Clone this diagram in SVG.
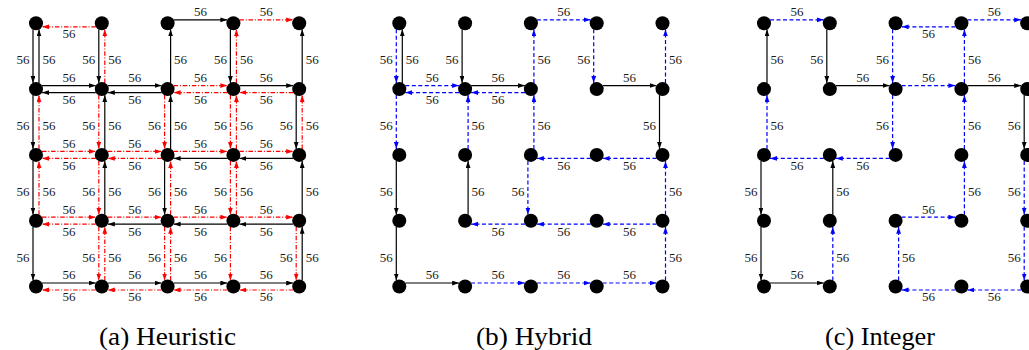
<svg xmlns="http://www.w3.org/2000/svg" width="1029" height="350" viewBox="0 0 1029 350">
<style>
.k{stroke:#000;stroke-width:1.2;fill:none;marker-end:url(#ak)}
.r{stroke:#f00;stroke-width:1.2;fill:none;stroke-dasharray:4.5 1.8 1 1.8;marker-end:url(#ar)}
.b{stroke:#00f;stroke-width:1.2;fill:none;stroke-dasharray:4 2.5;marker-end:url(#ab)}
.lb text{font-family:"Liberation Serif","Times New Roman",serif;font-size:13px;text-anchor:middle;fill:#1a1a1a}
.nd circle{fill:#000}
.cap{font-family:"Liberation Serif","Times New Roman",serif;font-size:25px;text-anchor:middle;fill:#000}
</style>
<defs>
<marker id="ak" markerUnits="userSpaceOnUse" markerWidth="8" markerHeight="6" refX="7" refY="2.4" orient="auto"><path d="M0,0 L7,2.4 L0,4.8 z" fill="#000"/></marker>
<marker id="ar" markerUnits="userSpaceOnUse" markerWidth="8" markerHeight="6" refX="7" refY="2.4" orient="auto"><path d="M0,0 L7,2.4 L0,4.8 z" fill="#f00"/></marker>
<marker id="ab" markerUnits="userSpaceOnUse" markerWidth="8" markerHeight="6" refX="7" refY="2.4" orient="auto"><path d="M0,0 L7,2.4 L0,4.8 z" fill="#00f"/></marker>
<circle id="dot" r="7"/>
</defs>

<!-- Panel (a) Heuristic -->
<g id="panel-a" transform="translate(36,23.3)">
<g id="a-connectors">
<line class="r" x1="59.8" y1="3.5" x2="6" y2="3.5"/>
<line class="k" x1="137.6" y1="-3.5" x2="191.4" y2="-3.5"/>
<line class="r" x1="203.4" y1="-3.5" x2="257.2" y2="-3.5"/>
<line class="k" x1="6" y1="62.3" x2="59.8" y2="62.3"/>
<line class="k" x1="59.8" y1="69.3" x2="6" y2="69.3"/>
<line class="k" x1="71.8" y1="62.3" x2="125.6" y2="62.3"/>
<line class="k" x1="125.6" y1="69.3" x2="71.8" y2="69.3"/>
<line class="r" x1="137.6" y1="62.3" x2="191.4" y2="62.3"/>
<line class="r" x1="191.4" y1="69.3" x2="137.6" y2="69.3"/>
<line class="k" x1="203.4" y1="62.3" x2="257.2" y2="62.3"/>
<line class="r" x1="257.2" y1="69.3" x2="203.4" y2="69.3"/>
<line class="r" x1="6" y1="128.1" x2="59.8" y2="128.1"/>
<line class="r" x1="59.8" y1="135.1" x2="6" y2="135.1"/>
<line class="r" x1="71.8" y1="128.1" x2="125.6" y2="128.1"/>
<line class="r" x1="125.6" y1="135.1" x2="71.8" y2="135.1"/>
<line class="r" x1="137.6" y1="128.1" x2="191.4" y2="128.1"/>
<line class="k" x1="191.4" y1="135.1" x2="137.6" y2="135.1"/>
<line class="r" x1="203.4" y1="128.1" x2="257.2" y2="128.1"/>
<line class="k" x1="257.2" y1="135.1" x2="203.4" y2="135.1"/>
<line class="r" x1="6" y1="193.9" x2="59.8" y2="193.9"/>
<line class="r" x1="59.8" y1="200.9" x2="6" y2="200.9"/>
<line class="r" x1="71.8" y1="193.9" x2="125.6" y2="193.9"/>
<line class="k" x1="125.6" y1="200.9" x2="71.8" y2="200.9"/>
<line class="r" x1="137.6" y1="193.9" x2="191.4" y2="193.9"/>
<line class="k" x1="191.4" y1="200.9" x2="137.6" y2="200.9"/>
<line class="r" x1="203.4" y1="193.9" x2="257.2" y2="193.9"/>
<line class="k" x1="257.2" y1="200.9" x2="203.4" y2="200.9"/>
<line class="k" x1="6" y1="259.7" x2="59.8" y2="259.7"/>
<line class="r" x1="59.8" y1="266.7" x2="6" y2="266.7"/>
<line class="k" x1="71.8" y1="259.7" x2="125.6" y2="259.7"/>
<line class="r" x1="125.6" y1="266.7" x2="71.8" y2="266.7"/>
<line class="k" x1="137.6" y1="259.7" x2="191.4" y2="259.7"/>
<line class="r" x1="191.4" y1="266.7" x2="137.6" y2="266.7"/>
<line class="k" x1="203.4" y1="259.7" x2="257.2" y2="259.7"/>
<line class="r" x1="257.2" y1="266.7" x2="203.4" y2="266.7"/>
<line class="k" x1="-3" y1="6" x2="-3" y2="59.8"/>
<line class="k" x1="3" y1="59.8" x2="3" y2="6"/>
<line class="k" x1="-3" y1="71.8" x2="-3" y2="125.6"/>
<line class="r" x1="3" y1="125.6" x2="3" y2="71.8"/>
<line class="k" x1="-3" y1="137.6" x2="-3" y2="191.4"/>
<line class="r" x1="3" y1="191.4" x2="3" y2="137.6"/>
<line class="k" x1="-3" y1="203.4" x2="-3" y2="257.2"/>
<line class="k" x1="62.8" y1="6" x2="62.8" y2="59.8"/>
<line class="r" x1="68.8" y1="59.8" x2="68.8" y2="6"/>
<line class="r" x1="62.8" y1="71.8" x2="62.8" y2="125.6"/>
<line class="k" x1="68.8" y1="125.6" x2="68.8" y2="71.8"/>
<line class="r" x1="62.8" y1="137.6" x2="62.8" y2="191.4"/>
<line class="k" x1="68.8" y1="191.4" x2="68.8" y2="137.6"/>
<line class="r" x1="62.8" y1="203.4" x2="62.8" y2="257.2"/>
<line class="r" x1="68.8" y1="257.2" x2="68.8" y2="203.4"/>
<line class="k" x1="134.6" y1="59.8" x2="134.6" y2="6"/>
<line class="r" x1="128.6" y1="71.8" x2="128.6" y2="125.6"/>
<line class="k" x1="134.6" y1="125.6" x2="134.6" y2="71.8"/>
<line class="k" x1="128.6" y1="137.6" x2="128.6" y2="191.4"/>
<line class="r" x1="134.6" y1="191.4" x2="134.6" y2="137.6"/>
<line class="r" x1="128.6" y1="203.4" x2="128.6" y2="257.2"/>
<line class="r" x1="134.6" y1="257.2" x2="134.6" y2="203.4"/>
<line class="k" x1="194.4" y1="6" x2="194.4" y2="59.8"/>
<line class="r" x1="200.4" y1="59.8" x2="200.4" y2="6"/>
<line class="r" x1="194.4" y1="71.8" x2="194.4" y2="125.6"/>
<line class="r" x1="200.4" y1="125.6" x2="200.4" y2="71.8"/>
<line class="r" x1="194.4" y1="137.6" x2="194.4" y2="191.4"/>
<line class="r" x1="200.4" y1="191.4" x2="200.4" y2="137.6"/>
<line class="r" x1="194.4" y1="203.4" x2="194.4" y2="257.2"/>
<line class="k" x1="266.2" y1="59.8" x2="266.2" y2="6"/>
<line class="k" x1="260.2" y1="71.8" x2="260.2" y2="125.6"/>
<line class="r" x1="266.2" y1="125.6" x2="266.2" y2="71.8"/>
<line class="k" x1="266.2" y1="191.4" x2="266.2" y2="137.6"/>
<line class="r" x1="260.2" y1="203.4" x2="260.2" y2="257.2"/>
<line class="k" x1="266.2" y1="257.2" x2="266.2" y2="203.4"/>
</g>
<g id="a-labels" class="lb">
<text x="32.9" y="15">56</text>
<text x="164.5" y="-7">56</text>
<text x="230.3" y="-7">56</text>
<text x="32.9" y="58.8">56</text><text x="32.9" y="80.8">56</text>
<text x="98.7" y="58.8">56</text><text x="98.7" y="80.8">56</text>
<text x="164.5" y="58.8">56</text><text x="164.5" y="80.8">56</text>
<text x="230.3" y="58.8">56</text><text x="230.3" y="80.8">56</text>
<text x="32.9" y="124.6">56</text><text x="32.9" y="146.6">56</text>
<text x="98.7" y="124.6">56</text><text x="98.7" y="146.6">56</text>
<text x="164.5" y="124.6">56</text><text x="164.5" y="146.6">56</text>
<text x="230.3" y="124.6">56</text><text x="230.3" y="146.6">56</text>
<text x="32.9" y="190.4">56</text><text x="32.9" y="212.4">56</text>
<text x="98.7" y="190.4">56</text><text x="98.7" y="212.4">56</text>
<text x="164.5" y="190.4">56</text><text x="164.5" y="212.4">56</text>
<text x="230.3" y="190.4">56</text><text x="230.3" y="212.4">56</text>
<text x="32.9" y="256.2">56</text><text x="32.9" y="278.2">56</text>
<text x="98.7" y="256.2">56</text><text x="98.7" y="278.2">56</text>
<text x="164.5" y="256.2">56</text><text x="164.5" y="278.2">56</text>
<text x="230.3" y="256.2">56</text><text x="230.3" y="278.2">56</text>
<text x="-13" y="40.9">56</text><text x="13" y="40.9">56</text>
<text x="-13" y="106.7">56</text><text x="13" y="106.7">56</text>
<text x="-13" y="172.5">56</text><text x="13" y="172.5">56</text>
<text x="-13" y="238.3">56</text>
<text x="52.8" y="40.9">56</text><text x="78.8" y="40.9">56</text>
<text x="52.8" y="106.7">56</text><text x="78.8" y="106.7">56</text>
<text x="52.8" y="172.5">56</text><text x="78.8" y="172.5">56</text>
<text x="52.8" y="238.3">56</text><text x="78.8" y="238.3">56</text>
<text x="144.6" y="40.9">56</text>
<text x="118.6" y="106.7">56</text><text x="144.6" y="106.7">56</text>
<text x="118.6" y="172.5">56</text><text x="144.6" y="172.5">56</text>
<text x="118.6" y="238.3">56</text><text x="144.6" y="238.3">56</text>
<text x="184.4" y="40.9">56</text><text x="210.4" y="40.9">56</text>
<text x="184.4" y="106.7">56</text><text x="210.4" y="106.7">56</text>
<text x="184.4" y="172.5">56</text><text x="210.4" y="172.5">56</text>
<text x="184.4" y="238.3">56</text>
<text x="276.2" y="40.9">56</text>
<text x="250.2" y="106.7">56</text><text x="276.2" y="106.7">56</text>
<text x="276.2" y="172.5">56</text>
<text x="250.2" y="238.3">56</text><text x="276.2" y="238.3">56</text>
</g>
<g class="nd">
<g id="a-n00"><use href="#dot" x="0" y="0"/></g><g id="a-n10"><use href="#dot" x="65.8" y="0"/></g><g id="a-n20"><use href="#dot" x="131.6" y="0"/></g><g id="a-n30"><use href="#dot" x="197.4" y="0"/></g><g id="a-n40"><use href="#dot" x="263.2" y="0"/></g>
<g id="a-n01"><use href="#dot" x="0" y="65.8"/></g><g id="a-n11"><use href="#dot" x="65.8" y="65.8"/></g><g id="a-n21"><use href="#dot" x="131.6" y="65.8"/></g><g id="a-n31"><use href="#dot" x="197.4" y="65.8"/></g><g id="a-n41"><use href="#dot" x="263.2" y="65.8"/></g>
<g id="a-n02"><use href="#dot" x="0" y="131.6"/></g><g id="a-n12"><use href="#dot" x="65.8" y="131.6"/></g><g id="a-n22"><use href="#dot" x="131.6" y="131.6"/></g><g id="a-n32"><use href="#dot" x="197.4" y="131.6"/></g><g id="a-n42"><use href="#dot" x="263.2" y="131.6"/></g>
<g id="a-n03"><use href="#dot" x="0" y="197.4"/></g><g id="a-n13"><use href="#dot" x="65.8" y="197.4"/></g><g id="a-n23"><use href="#dot" x="131.6" y="197.4"/></g><g id="a-n33"><use href="#dot" x="197.4" y="197.4"/></g><g id="a-n43"><use href="#dot" x="263.2" y="197.4"/></g>
<g id="a-n04"><use href="#dot" x="0" y="263.2"/></g><g id="a-n14"><use href="#dot" x="65.8" y="263.2"/></g><g id="a-n24"><use href="#dot" x="131.6" y="263.2"/></g><g id="a-n34"><use href="#dot" x="197.4" y="263.2"/></g><g id="a-n44"><use href="#dot" x="263.2" y="263.2"/></g>
</g>
</g>

<!-- Panel (b) Hybrid -->
<g id="panel-b" transform="translate(399.3,23.3)">
<g id="b-connectors">
<line class="b" x1="137.6" y1="-3.5" x2="191.4" y2="-3.5"/>
<line class="b" x1="6" y1="62.3" x2="59.8" y2="62.3"/>
<line class="b" x1="59.8" y1="69.3" x2="6" y2="69.3"/>
<line class="k" x1="71.8" y1="62.3" x2="125.6" y2="62.3"/>
<line class="b" x1="125.6" y1="69.3" x2="71.8" y2="69.3"/>
<line class="k" x1="203.4" y1="62.3" x2="257.2" y2="62.3"/>
<line class="b" x1="191.4" y1="135.1" x2="137.6" y2="135.1"/>
<line class="b" x1="257.2" y1="135.1" x2="203.4" y2="135.1"/>
<line class="b" x1="125.6" y1="200.9" x2="71.8" y2="200.9"/>
<line class="b" x1="191.4" y1="200.9" x2="137.6" y2="200.9"/>
<line class="b" x1="257.2" y1="200.9" x2="203.4" y2="200.9"/>
<line class="k" x1="6" y1="259.7" x2="59.8" y2="259.7"/>
<line class="b" x1="71.8" y1="259.7" x2="125.6" y2="259.7"/>
<line class="b" x1="137.6" y1="259.7" x2="191.4" y2="259.7"/>
<line class="b" x1="203.4" y1="259.7" x2="257.2" y2="259.7"/>
<line class="b" x1="-3" y1="6" x2="-3" y2="59.8"/>
<line class="k" x1="3" y1="59.8" x2="3" y2="6"/>
<line class="b" x1="-3" y1="71.8" x2="-3" y2="125.6"/>
<line class="k" x1="-3" y1="137.6" x2="-3" y2="191.4"/>
<line class="k" x1="-3" y1="203.4" x2="-3" y2="257.2"/>
<line class="k" x1="62.8" y1="6" x2="62.8" y2="59.8"/>
<line class="b" x1="68.8" y1="125.6" x2="68.8" y2="71.8"/>
<line class="k" x1="68.8" y1="191.4" x2="68.8" y2="137.6"/>
<line class="b" x1="134.6" y1="59.8" x2="134.6" y2="6"/>
<line class="b" x1="134.6" y1="125.6" x2="134.6" y2="71.8"/>
<line class="b" x1="128.6" y1="137.6" x2="128.6" y2="191.4"/>
<line class="b" x1="194.4" y1="6" x2="194.4" y2="59.8"/>
<line class="b" x1="266.2" y1="59.8" x2="266.2" y2="6"/>
<line class="k" x1="260.2" y1="71.8" x2="260.2" y2="125.6"/>
<line class="b" x1="266.2" y1="191.4" x2="266.2" y2="137.6"/>
<line class="b" x1="266.2" y1="257.2" x2="266.2" y2="203.4"/>
</g>
<g id="b-labels" class="lb">
<text x="164.5" y="-7">56</text>
<text x="32.9" y="58.8">56</text><text x="32.9" y="80.8">56</text>
<text x="98.7" y="58.8">56</text><text x="98.7" y="80.8">56</text>
<text x="230.3" y="58.8">56</text>
<text x="164.5" y="146.6">56</text><text x="230.3" y="146.6">56</text>
<text x="98.7" y="212.4">56</text><text x="164.5" y="212.4">56</text><text x="230.3" y="212.4">56</text>
<text x="32.9" y="256.2">56</text><text x="98.7" y="256.2">56</text><text x="164.5" y="256.2">56</text><text x="230.3" y="256.2">56</text>
<text x="-13" y="40.9">56</text><text x="13" y="40.9">56</text>
<text x="-13" y="106.7">56</text><text x="-13" y="172.5">56</text><text x="-13" y="238.3">56</text>
<text x="52.8" y="40.9">56</text><text x="78.8" y="106.7">56</text><text x="78.8" y="172.5">56</text>
<text x="144.6" y="40.9">56</text><text x="144.6" y="106.7">56</text><text x="118.6" y="172.5">56</text>
<text x="184.4" y="40.9">56</text>
<text x="276.2" y="40.9">56</text><text x="250.2" y="106.7">56</text><text x="276.2" y="172.5">56</text><text x="276.2" y="238.3">56</text>
</g>
<g class="nd">
<g id="b-n00"><use href="#dot" x="0" y="0"/></g><g id="b-n10"><use href="#dot" x="65.8" y="0"/></g><g id="b-n20"><use href="#dot" x="131.6" y="0"/></g><g id="b-n30"><use href="#dot" x="197.4" y="0"/></g><g id="b-n40"><use href="#dot" x="263.2" y="0"/></g>
<g id="b-n01"><use href="#dot" x="0" y="65.8"/></g><g id="b-n11"><use href="#dot" x="65.8" y="65.8"/></g><g id="b-n21"><use href="#dot" x="131.6" y="65.8"/></g><g id="b-n31"><use href="#dot" x="197.4" y="65.8"/></g><g id="b-n41"><use href="#dot" x="263.2" y="65.8"/></g>
<g id="b-n02"><use href="#dot" x="0" y="131.6"/></g><g id="b-n12"><use href="#dot" x="65.8" y="131.6"/></g><g id="b-n22"><use href="#dot" x="131.6" y="131.6"/></g><g id="b-n32"><use href="#dot" x="197.4" y="131.6"/></g><g id="b-n42"><use href="#dot" x="263.2" y="131.6"/></g>
<g id="b-n03"><use href="#dot" x="0" y="197.4"/></g><g id="b-n13"><use href="#dot" x="65.8" y="197.4"/></g><g id="b-n23"><use href="#dot" x="131.6" y="197.4"/></g><g id="b-n33"><use href="#dot" x="197.4" y="197.4"/></g><g id="b-n43"><use href="#dot" x="263.2" y="197.4"/></g>
<g id="b-n04"><use href="#dot" x="0" y="263.2"/></g><g id="b-n14"><use href="#dot" x="65.8" y="263.2"/></g><g id="b-n24"><use href="#dot" x="131.6" y="263.2"/></g><g id="b-n34"><use href="#dot" x="197.4" y="263.2"/></g><g id="b-n44"><use href="#dot" x="263.2" y="263.2"/></g>
</g>
</g>

<!-- Panel (c) Integer -->
<g id="panel-c" transform="translate(764,23.3)">
<g id="c-connectors">
<line class="b" x1="6" y1="-3.5" x2="59.8" y2="-3.5"/>
<line class="b" x1="191.4" y1="3.5" x2="137.6" y2="3.5"/>
<line class="b" x1="203.4" y1="-3.5" x2="257.2" y2="-3.5"/>
<line class="k" x1="71.8" y1="62.3" x2="125.6" y2="62.3"/>
<line class="b" x1="137.6" y1="62.3" x2="191.4" y2="62.3"/>
<line class="k" x1="203.4" y1="62.3" x2="257.2" y2="62.3"/>
<line class="b" x1="59.8" y1="135.1" x2="6" y2="135.1"/>
<line class="b" x1="125.6" y1="135.1" x2="71.8" y2="135.1"/>
<line class="b" x1="137.6" y1="193.9" x2="191.4" y2="193.9"/>
<line class="k" x1="6" y1="259.7" x2="59.8" y2="259.7"/>
<line class="b" x1="191.4" y1="266.7" x2="137.6" y2="266.7"/>
<line class="b" x1="257.2" y1="266.7" x2="203.4" y2="266.7"/>
<line class="k" x1="3" y1="59.8" x2="3" y2="6"/>
<line class="b" x1="3" y1="125.6" x2="3" y2="71.8"/>
<line class="k" x1="-3" y1="137.6" x2="-3" y2="191.4"/>
<line class="k" x1="-3" y1="203.4" x2="-3" y2="257.2"/>
<line class="k" x1="62.8" y1="6" x2="62.8" y2="59.8"/>
<line class="k" x1="68.8" y1="191.4" x2="68.8" y2="137.6"/>
<line class="b" x1="68.8" y1="257.2" x2="68.8" y2="203.4"/>
<line class="b" x1="128.6" y1="6" x2="128.6" y2="59.8"/>
<line class="b" x1="128.6" y1="71.8" x2="128.6" y2="125.6"/>
<line class="b" x1="134.6" y1="257.2" x2="134.6" y2="203.4"/>
<line class="b" x1="200.4" y1="59.8" x2="200.4" y2="6"/>
<line class="b" x1="200.4" y1="125.6" x2="200.4" y2="71.8"/>
<line class="b" x1="200.4" y1="191.4" x2="200.4" y2="137.6"/>
<line class="k" x1="260.2" y1="71.8" x2="260.2" y2="125.6"/>
<line class="b" x1="260.2" y1="137.6" x2="260.2" y2="191.4"/>
<line class="b" x1="260.2" y1="203.4" x2="260.2" y2="257.2"/>
</g>
<g id="c-labels" class="lb">
<text x="32.9" y="-7">56</text><text x="164.5" y="15">56</text><text x="230.3" y="-7">56</text>
<text x="98.7" y="58.8">56</text><text x="164.5" y="58.8">56</text><text x="230.3" y="58.8">56</text>
<text x="32.9" y="146.6">56</text><text x="98.7" y="146.6">56</text>
<text x="164.5" y="190.4">56</text>
<text x="32.9" y="256.2">56</text><text x="164.5" y="278.2">56</text><text x="230.3" y="278.2">56</text>
<text x="13" y="40.9">56</text><text x="13" y="106.7">56</text><text x="-13" y="172.5">56</text><text x="-13" y="238.3">56</text>
<text x="52.8" y="40.9">56</text><text x="78.8" y="172.5">56</text><text x="78.8" y="238.3">56</text>
<text x="118.6" y="40.9">56</text><text x="118.6" y="106.7">56</text><text x="144.6" y="238.3">56</text>
<text x="210.4" y="40.9">56</text><text x="210.4" y="106.7">56</text><text x="210.4" y="172.5">56</text>
<text x="250.2" y="106.7">56</text><text x="250.2" y="172.5">56</text><text x="250.2" y="238.3">56</text>
</g>
<g class="nd">
<g id="c-n00"><use href="#dot" x="0" y="0"/></g><g id="c-n10"><use href="#dot" x="65.8" y="0"/></g><g id="c-n20"><use href="#dot" x="131.6" y="0"/></g><g id="c-n30"><use href="#dot" x="197.4" y="0"/></g><g id="c-n40"><use href="#dot" x="263.2" y="0"/></g>
<g id="c-n01"><use href="#dot" x="0" y="65.8"/></g><g id="c-n11"><use href="#dot" x="65.8" y="65.8"/></g><g id="c-n21"><use href="#dot" x="131.6" y="65.8"/></g><g id="c-n31"><use href="#dot" x="197.4" y="65.8"/></g><g id="c-n41"><use href="#dot" x="263.2" y="65.8"/></g>
<g id="c-n02"><use href="#dot" x="0" y="131.6"/></g><g id="c-n12"><use href="#dot" x="65.8" y="131.6"/></g><g id="c-n22"><use href="#dot" x="131.6" y="131.6"/></g><g id="c-n32"><use href="#dot" x="197.4" y="131.6"/></g><g id="c-n42"><use href="#dot" x="263.2" y="131.6"/></g>
<g id="c-n03"><use href="#dot" x="0" y="197.4"/></g><g id="c-n13"><use href="#dot" x="65.8" y="197.4"/></g><g id="c-n23"><use href="#dot" x="131.6" y="197.4"/></g><g id="c-n33"><use href="#dot" x="197.4" y="197.4"/></g><g id="c-n43"><use href="#dot" x="263.2" y="197.4"/></g>
<g id="c-n04"><use href="#dot" x="0" y="263.2"/></g><g id="c-n14"><use href="#dot" x="65.8" y="263.2"/></g><g id="c-n24"><use href="#dot" x="131.6" y="263.2"/></g><g id="c-n34"><use href="#dot" x="197.4" y="263.2"/></g><g id="c-n44"><use href="#dot" x="263.2" y="263.2"/></g>
</g>
</g>

<g id="captions">
<text class="cap" x="167.5" y="345" textLength="137" lengthAdjust="spacingAndGlyphs">(a) Heuristic</text>
<text class="cap" x="534" y="345" textLength="116" lengthAdjust="spacingAndGlyphs">(b) Hybrid</text>
<text class="cap" x="880" y="345" textLength="110" lengthAdjust="spacingAndGlyphs">(c) Integer</text>
</g>
</svg>
